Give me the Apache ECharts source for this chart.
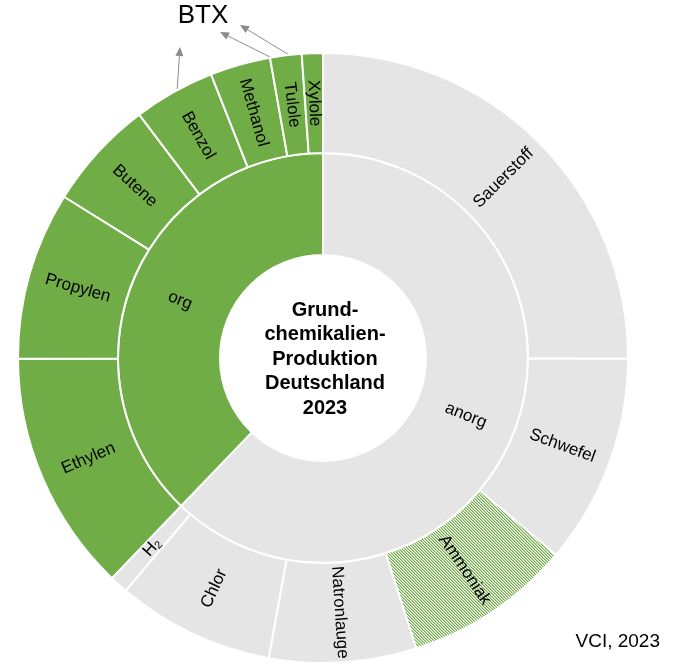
<!DOCTYPE html>
<html>
<head>
<meta charset="utf-8">
<script src="https://cdn.jsdelivr.net/npm/echarts@6/dist/echarts.min.js"></script>
<style>
  html, body { margin: 0; padding: 0; background: #fff; }
  #main { width: 673px; height: 664px; }
</style>
</head>
<body>
<div id="main"></div>
<script>
// inner ring
const groupNames = ['anorg', 'org'];

// outer ring, clockwise from 12 o'clock
const anorgNames = ['Sauerstoff', 'Schwefel', 'Ammoniak', 'Natronlauge', 'Chlor', 'H2'];
const anorgValues = [90, 40, 32, 28, 30, 3.5];
const orgNames = ['Ethylen', 'Propylen', 'Butene', 'Benzol', 'Methanol', 'Tulole', 'Xylole'];
const orgValues = [46, 32, 21, 15.5, 11.5, 6, 4];

const centerLines = ['Grund-', 'chemikalien-', 'Produktion', 'Deutschland', '2023'];

const GREEN = '#70ad47';
const GREY = '#e5e5e5';
const FONT = 'Liberation Sans, Arial, sans-serif';

// hatch pattern for Ammoniak
function hatch() {
    const c = document.createElement('canvas');
    c.width = 3;
    c.height = 3;
    const ctx = c.getContext('2d');
    ctx.fillStyle = '#ffffff';
    ctx.fillRect(0, 0, 3, 3);
    for (let y = 0; y < 3; y++) {
        ctx.fillStyle = GREEN;
        ctx.fillRect(y % 3, y, 1, 1);
        ctx.fillStyle = '#b4d59e';
        ctx.fillRect((y + 1) % 3, y, 1, 1);
    }
    return c;
}

const anorgChildren = anorgNames.map(function (n, i) {
    const d = { name: n, value: anorgValues[i], itemStyle: { color: GREY } };
    if (n === 'Ammoniak') {
        d.itemStyle = { color: { image: hatch(), repeat: 'repeat' } };
    }
    if (n === 'H2') {
        d.label = { formatter: 'H{sub|2}' };
    }
    return d;
});
const orgChildren = orgNames.map(function (n, i) {
    return { name: n, value: orgValues[i], itemStyle: { color: GREEN } };
});

const data = [
    { name: groupNames[0], itemStyle: { color: GREY }, children: anorgChildren },
    { name: groupNames[1], itemStyle: { color: GREEN }, children: orgChildren }
];

const cx = 323, cy = 358;

// arrow from (x1,y1) to tip (x2,y2)
function arrow(x1, y1, x2, y2) {
    const a = Math.atan2(y2 - y1, x2 - x1);
    const L = 9, W = 4;
    const bx = x2 - L * Math.cos(a), by = y2 - L * Math.sin(a);
    return [
        { type: 'line', shape: { x1: x1, y1: y1, x2: bx, y2: by },
          style: { stroke: '#8c8c8c', lineWidth: 1 }, silent: true },
        { type: 'polygon', shape: { points: [
            [x2, y2],
            [bx + W * Math.sin(a), by - W * Math.cos(a)],
            [bx - W * Math.sin(a), by + W * Math.cos(a)]
          ] }, style: { fill: '#8c8c8c' }, silent: true }
    ];
}

const chart = echarts.init(document.getElementById('main'), null, { renderer: 'canvas' });

const option = {
    animation: false,
    series: [{
        type: 'sunburst',
        center: [cx, cy],
        startAngle: 90,
        sort: null,
        nodeClick: false,
        emphasis: { disabled: true },
        itemStyle: { borderColor: '#fff', borderWidth: 2 },
        label: {
            rotate: 'radial',
            color: '#000',
            fontSize: 17,
            fontFamily: FONT,
            rich: {
                sub: { fontSize: 11, verticalAlign: 'bottom', padding: [7, 0, 0, 0], fontFamily: FONT }
            }
        },
        levels: [
            {},
            { r0: 103, r: 205 },
            { r0: 205, r: 305 }
        ],
        data: data
    }],
    graphic: [
        {
            type: 'text',
            x: cx + 2, y: cy + 1,
            style: {
                text: centerLines.join('\n'),
                fontSize: 20,
                fontWeight: 'bold',
                fontFamily: FONT,
                lineHeight: 24.5,
                fill: '#000',
                align: 'center',
                verticalAlign: 'middle'
            },
            silent: true
        },
        {
            type: 'text',
            x: 203, y: 16,
            style: { text: 'BTX', fontSize: 26, fontFamily: FONT, fill: '#000',
                     align: 'center', verticalAlign: 'middle' },
            silent: true
        },
        {
            type: 'text',
            x: 660, y: 642,
            style: { text: 'VCI, 2023', fontSize: 19, fontFamily: FONT, fill: '#000',
                     align: 'right', verticalAlign: 'middle' },
            silent: true
        }
    ].concat(arrow(177, 92, 180, 47))
     .concat(arrow(292, 68, 220, 32))
     .concat(arrow(317, 72, 240, 25))
};

chart.setOption(option);
</script>
</body>
</html>
